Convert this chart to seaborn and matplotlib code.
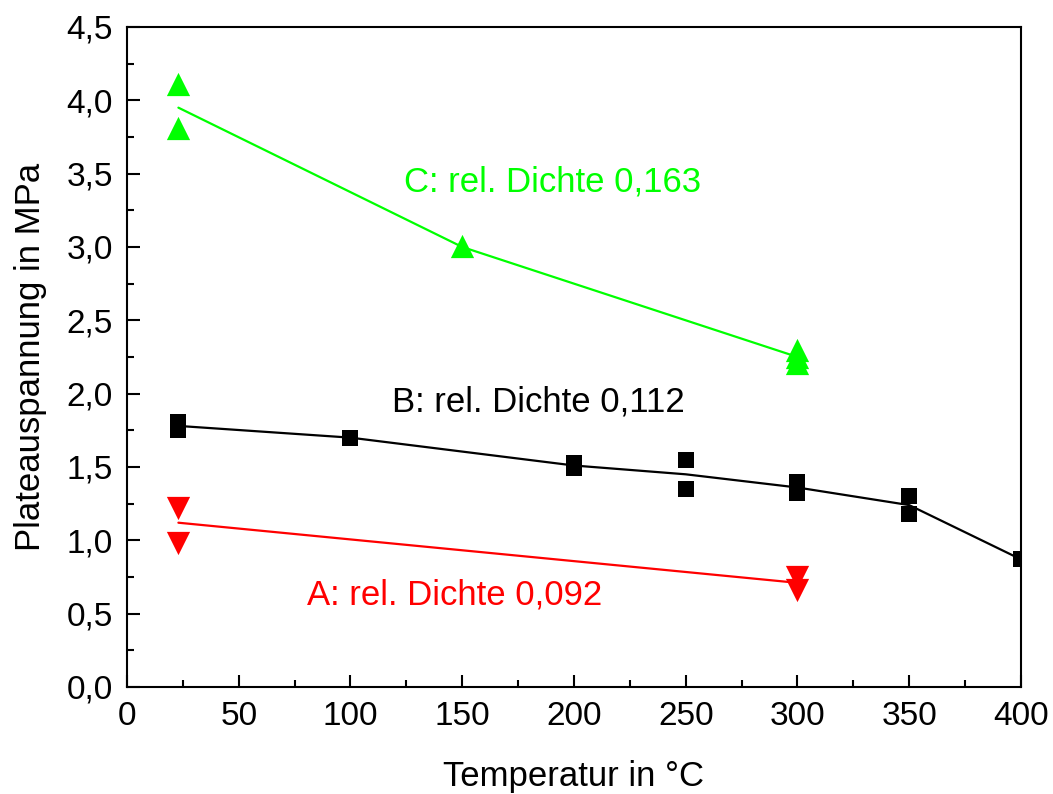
import numpy as np
import pandas as pd
import matplotlib
matplotlib.use("Agg")
import matplotlib.pyplot as plt
import seaborn as sns
from matplotlib.ticker import MultipleLocator, FuncFormatter

# Data
a_temp = [23, 23, 300, 300]
a_stress = [1.22, 0.98, 0.75, 0.66]
a_line_temp = [23, 300]
a_line_stress = [1.12, 0.71]

b_temp = [23, 23, 100, 200, 200, 250, 250, 300, 300, 350, 350, 400]
b_stress = [1.81, 1.75, 1.70, 1.53, 1.49, 1.55, 1.35, 1.40, 1.32, 1.30, 1.18, 0.87]
b_line_temp = [23, 100, 200, 250, 300, 350, 400]
b_line_stress = [1.78, 1.70, 1.51, 1.45, 1.36, 1.24, 0.87]

c_temp = [23, 23, 150, 300, 300, 300]
c_stress = [4.11, 3.81, 3.01, 2.30, 2.25, 2.21]
c_line_temp = [23, 150, 300]
c_line_stress = [3.95, 3.00, 2.25]

labels = ["A: rel. Dichte 0,092", "B: rel. Dichte 0,112", "C: rel. Dichte 0,163"]
colors = ["#FF0000", "#000000", "#00FF00"]

sns.set_theme(style="white")
plt.rcParams['font.family'] = ['Liberation Sans', 'DejaVu Sans']
plt.rcParams['text.color'] = 'black'
plt.rcParams['axes.labelcolor'] = 'black'

fig = plt.figure(figsize=(10.53, 7.94), dpi=100)
ax = fig.add_axes([0.1206, 0.1348, 0.849, 0.8312])

series = [
    (a_temp, a_stress, a_line_temp, a_line_stress, "v", colors[0], 280),
    (b_temp, b_stress, b_line_temp, b_line_stress, "s", colors[1], 140),
    (c_temp, c_stress, c_line_temp, c_line_stress, "^", colors[2], 280),
]
for t, s, lt, ls, m, c, size in series:
    sns.lineplot(x=lt, y=ls, ax=ax, color=c, linewidth=1.6, sort=False)
    sns.scatterplot(x=t, y=s, ax=ax, marker=m, color=c, s=size, linewidth=0)

fs_text = 25
ax.text(190.6, 3.44, labels[2], color=colors[2], fontsize=fs_text, ha="center", va="center")
ax.text(184, 1.94, labels[1], color=colors[1], fontsize=fs_text, ha="center", va="center")
ax.text(146.8, 0.63, labels[0], color=colors[0], fontsize=fs_text, ha="center", va="center")

ax.set_xlim(0, 400)
ax.set_ylim(0, 4.5)
ax.xaxis.set_major_locator(MultipleLocator(50))
ax.xaxis.set_minor_locator(MultipleLocator(25))
ax.yaxis.set_major_locator(MultipleLocator(0.5))
ax.yaxis.set_minor_locator(MultipleLocator(0.25))
ax.yaxis.set_major_formatter(FuncFormatter(lambda v, p: f"{v:.1f}".replace(".", ",")))
ax.xaxis.set_major_formatter(FuncFormatter(lambda v, p: f"{v:.0f}"))

ax.tick_params(which="both", direction="in", top=False, right=False, left=True, bottom=True,
               width=1.5, colors="black", labelcolor="black", labelsize=24, pad=10)
ax.tick_params(which="major", length=9)
ax.tick_params(which="minor", length=5)

for sp in ax.spines.values():
    sp.set_visible(True)
    sp.set_color("black")
    sp.set_linewidth(1.5)

ax.set_xlabel("Temperatur in °C", fontsize=25, labelpad=20, color="black")
ax.set_ylabel("Plateauspannung in MPa", fontsize=25, labelpad=14, color="black")
ax.grid(False)

fig.savefig("out.png", dpi=100)
